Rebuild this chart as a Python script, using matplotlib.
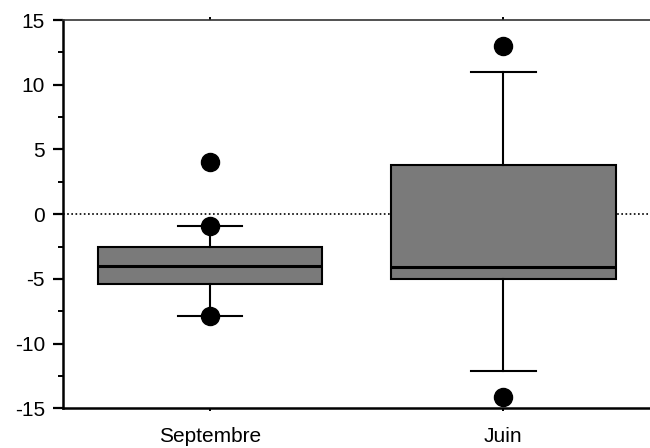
import matplotlib
matplotlib.use("Agg")
import matplotlib.pyplot as plt
from matplotlib.ticker import MultipleLocator

categories = ["Septembre", "Juin"]
q1 = [-5.4, -5.0]
medians = [-4.0, -4.1]
q3 = [-2.5, 3.8]
whisker_low = [-7.9, -12.1]
whisker_high = [-0.95, 11.0]
fliers = [[4.0, -0.95, -7.9], [13.0, -14.1]]

plt.rcParams['font.family'] = ['Liberation Sans', 'DejaVu Sans']
plt.rcParams['axes.unicode_minus'] = False

stats = []
for i, name in enumerate(categories):
    stats.append({'label': name, 'q1': q1[i], 'med': medians[i], 'q3': q3[i],
                  'whislo': whisker_low[i], 'whishi': whisker_high[i],
                  'fliers': fliers[i]})

fig = plt.figure(figsize=(6.5, 4.48), dpi=100)
ax = fig.add_axes([0.097, 0.0886, 0.903, 0.8667])

ax.axhline(0, color='black', linestyle=(0, (1, 1.5)), linewidth=1.2, zorder=1)

ax.bxp(stats, positions=[1, 2], widths=0.765, patch_artist=True,
       boxprops=dict(facecolor='#7a7a7a', edgecolor='black', linewidth=1.5),
       medianprops=dict(color='black', linewidth=2.2),
       whiskerprops=dict(color='black', linewidth=1.5),
       capprops=dict(color='black', linewidth=1.5),
       capwidths=0.22,
       flierprops=dict(marker='o', markerfacecolor='black', markeredgecolor='black',
                       markersize=13, linestyle='none'),
       zorder=3)

ax.set_xlim(0.5, 2.5)
ax.set_ylim(-15, 15)
ax.yaxis.set_major_locator(MultipleLocator(5))
ax.yaxis.set_minor_locator(MultipleLocator(2.5))
ax.set_xticks([1, 2])
ax.set_xticklabels(categories)

ax.spines['right'].set_visible(False)
ax.spines['left'].set_linewidth(1.8)
ax.spines['bottom'].set_linewidth(1.8)
ax.spines['top'].set_linewidth(1.2)
ax.spines['top'].set_color('#333333')

ax.tick_params(axis='y', which='major', direction='out', length=7, width=1.6,
               labelsize=15, pad=6)
ax.tick_params(axis='y', which='minor', direction='out', length=3.5, width=1.4)
ax.tick_params(axis='x', which='major', direction='out', length=2.5, width=1.4,
               labelsize=15, pad=11, top=True)

fig.savefig("out.png", dpi=100)
